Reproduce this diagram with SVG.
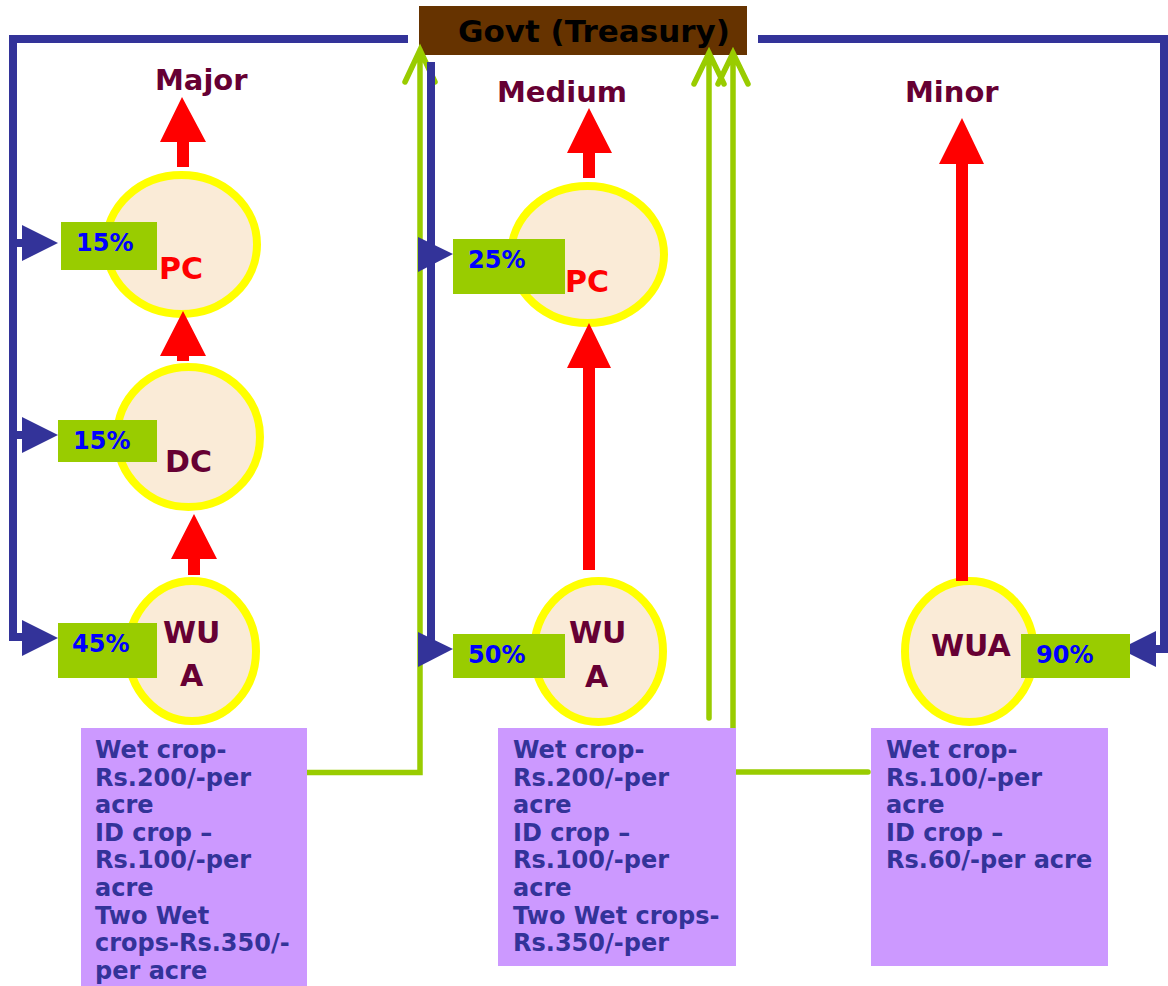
<svg xmlns="http://www.w3.org/2000/svg" width="1168" height="986" viewBox="0 0 1168 986">
<style>
text{font-family:"DejaVu Sans","Liberation Sans",sans-serif;font-weight:bold}
.blue{fill:none;stroke:#333399;stroke-width:8}
.bhead{fill:#333399}
.green{fill:none;stroke:#99CC00;stroke-width:5.5;stroke-linecap:round;stroke-linejoin:miter}
.red{fill:#FF0000}
.circ{fill:#FAEBD7;stroke:#FFFF00;stroke-width:8}
.pct{fill:#99CC00}
.pt{fill:#0000FF;font-size:24px}
.lbl{fill:#660033;font-size:29px}
.box{fill:#CC99FF}
.bt{fill:#333399;font-size:24px}
.cl{font-size:30px}
</style>
<rect width="1168" height="986" fill="#FFFFFF"/>
<g id="govt">
<rect x="419" y="6" width="328" height="49" fill="#663300"/>
<text x="458" y="42" font-size="31" fill="#000000">Govt (Treasury)</text>
</g>
<g id="titles">
<text class="lbl" x="155" y="90">Major</text>
<text class="lbl" x="497" y="102">Medium</text>
<text class="lbl" x="905" y="102">Minor</text>
</g>
<g id="major-pc">
<ellipse class="circ" cx="181.5" cy="244.5" rx="75.5" ry="69.5"/>
<text class="cl" x="159" y="279" fill="#FF0000">PC</text>
</g>
<g id="major-dc">
<ellipse class="circ" cx="188.5" cy="437" rx="71.5" ry="70"/>
<text class="cl" x="165" y="472" fill="#660033">DC</text>
</g>
<g id="major-wua">
<ellipse class="circ" cx="192" cy="651" rx="64" ry="70"/>
<text class="cl" x="163" y="643" fill="#660033">WU</text>
<text class="cl" x="180" y="686" fill="#660033">A</text>
</g>
<g id="medium-pc">
<ellipse class="circ" cx="587.5" cy="254.5" rx="76.5" ry="68.5"/>
<text class="cl" x="565" y="292" fill="#FF0000">PC</text>
</g>
<g id="medium-wua">
<ellipse class="circ" cx="598.5" cy="651.5" rx="64.5" ry="70.5"/>
<text class="cl" x="569" y="643" fill="#660033">WU</text>
<text class="cl" x="585" y="687" fill="#660033">A</text>
</g>
<g id="minor-wua">
<ellipse class="circ" cx="969.5" cy="651.5" rx="64.5" ry="70.5"/>
<text class="cl" x="931" y="656" fill="#660033">WUA</text>
</g>
<g id="connectors">
<path class="green" d="M307 772.5 H420 V50 M405 82 L420 50 L435 82"/>
<path class="green" d="M709 718 V53 M694 84 L709 53 L724 84"/>
<path class="green" d="M868 772 H733 V53 M718 84 L733 53 L748 84"/>
<path class="blue" d="M408 39 H13 V637 H26 M13 243 H26 M13 435 H26"/>
<path class="blue" d="M431 62 V649 H422 M431 254 H422"/>
<path class="blue" d="M758 39 H1164 V649 H1150"/>
<polygon class="bhead" points="22,225 58,243 22,261"/>
<polygon class="bhead" points="22,417 58,435 22,453"/>
<polygon class="bhead" points="22,620 58,638 22,656"/>
<polygon class="bhead" points="418,237 453,254 418,272"/>
<polygon class="bhead" points="418,632 453,649 418,667"/>
<polygon class="bhead" points="1156,631 1120,649 1156,667"/>
<polygon class="red" points="182,97 206,142 189,142 189,167 177,167 177,142 160,142"/>
<polygon class="red" points="183,311 206,356 189,356 189,361 177,361 177,356 160,356"/>
<polygon class="red" points="194,514 217,559 200,559 200,575 188,575 188,559 171,559"/>
<polygon class="red" points="589,108 612,153 595,153 595,178 583,178 583,153 567,153"/>
<polygon class="red" points="589,323 611,368 595,368 595,570 583,570 583,368 567,368"/>
<polygon class="red" points="962,118 984,164 968,164 968,581 956,581 956,164 939,164"/>
</g>
<g id="pct-major-pc"><rect class="pct" x="61" y="222" width="96" height="48"/><text class="pt" x="76" y="251">15%</text></g>
<g id="pct-major-dc"><rect class="pct" x="58" y="420" width="99" height="42"/><text class="pt" x="73" y="449">15%</text></g>
<g id="pct-major-wua"><rect class="pct" x="58" y="623" width="99" height="55"/><text class="pt" x="72" y="652">45%</text></g>
<g id="pct-medium-pc"><rect class="pct" x="453" y="239" width="112" height="55"/><text class="pt" x="468" y="268">25%</text></g>
<g id="pct-medium-wua"><rect class="pct" x="453" y="634" width="112" height="44"/><text class="pt" x="468" y="663">50%</text></g>
<g id="pct-minor-wua"><rect class="pct" x="1021" y="634" width="109" height="44"/><text class="pt" x="1036" y="663">90%</text></g>
<g id="rates-major">
<rect class="box" x="81" y="728" width="226" height="258"/>
<text class="bt" x="95" y="758">Wet crop-</text>
<text class="bt" x="95" y="786">Rs.200/-per</text>
<text class="bt" x="95" y="813">acre</text>
<text class="bt" x="95" y="841">ID crop –</text>
<text class="bt" x="95" y="868">Rs.100/-per</text>
<text class="bt" x="95" y="896">acre</text>
<text class="bt" x="95" y="924">Two Wet</text>
<text class="bt" x="95" y="951">crops-Rs.350/-</text>
<text class="bt" x="95" y="979">per acre</text>
</g>
<g id="rates-medium">
<rect class="box" x="498" y="728" width="238" height="238"/>
<text class="bt" x="513" y="758">Wet crop-</text>
<text class="bt" x="513" y="786">Rs.200/-per</text>
<text class="bt" x="513" y="813">acre</text>
<text class="bt" x="513" y="841">ID crop –</text>
<text class="bt" x="513" y="868">Rs.100/-per</text>
<text class="bt" x="513" y="896">acre</text>
<text class="bt" x="513" y="924">Two Wet crops-</text>
<text class="bt" x="513" y="951">Rs.350/-per</text>
</g>
<g id="rates-minor">
<rect class="box" x="871" y="728" width="237" height="238"/>
<text class="bt" x="886" y="758">Wet crop-</text>
<text class="bt" x="886" y="786">Rs.100/-per</text>
<text class="bt" x="886" y="813">acre</text>
<text class="bt" x="886" y="841">ID crop –</text>
<text class="bt" x="886" y="868">Rs.60/-per acre</text>
</g>
</svg>
